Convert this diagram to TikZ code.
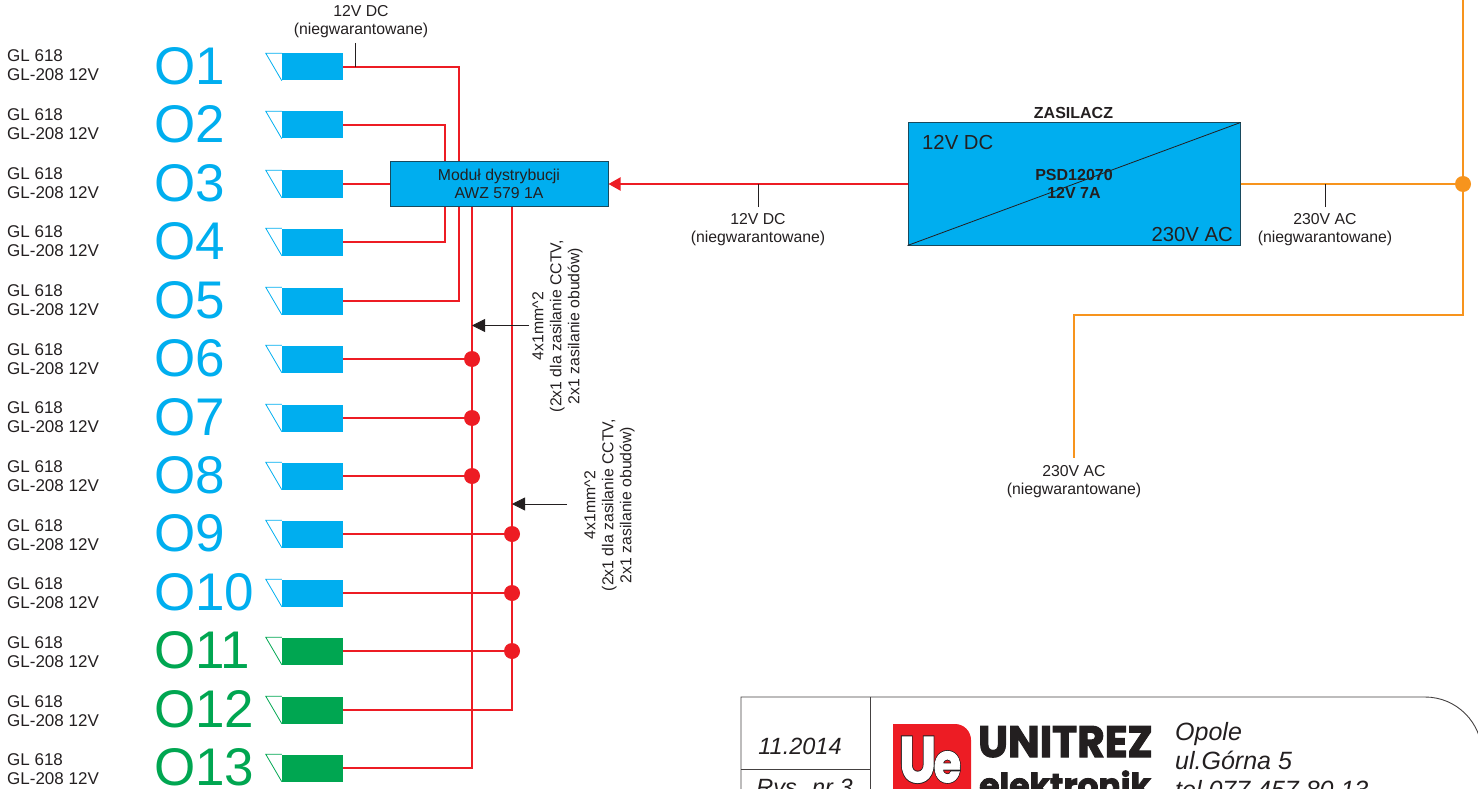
\documentclass[tikz,border=0pt]{standalone}
\usepackage{fontspec}
\setmainfont{Liberation Sans}
\newfontfamily\logofont[FakeBold=2.5]{Poppins Bold}
\newfontfamily\logofontB[FakeBold=5]{Poppins Bold}
\newfontfamily\logofontW[FakeBold=2]{Poppins Bold}
\usetikzlibrary{arrows.meta,calc}
\definecolor{cblue}{HTML}{00AEEF}
\definecolor{cgreen}{HTML}{00A651}
\definecolor{cred}{HTML}{ED1C24}
\definecolor{corange}{HTML}{F7941D}
\definecolor{cink}{HTML}{231F20}
\newcommand{\fsz}[2]{\fontsize{#1}{#2}\selectfont}
\newcommand{\uemark}{\scalebox{.82}[1]{U\kern-3pt{\fsz{54}{54}e}}}
\tikzset{
  redline/.style={draw=cred,line width=2pt},
  orline/.style={draw=corange,line width=2pt},
  tick/.style={draw=cink,line width=0.8pt},
  small/.style={text=cink,align=center,inner sep=0,font=\fsz{15.8}{18}},
  typelab/.style={text=cink,align=left,inner sep=0,anchor=west,font=\fsz{17}{19}},
  biglab/.style={inner sep=0,anchor=base west,font=\fsz{53}{53}},
  bluebox/.style={draw=cink!70!cblue,line width=1pt,fill=cblue,inner sep=0},
  dot/.style={circle,fill=#1,draw=none,minimum size=16pt,inner sep=0},
  frameline/.style={draw=cink!85,line width=0.9pt},
  titletext/.style={text=cink,inner sep=0,anchor=base west,font=\fsz{25}{25}\itshape},
}
\begin{document}
\begin{tikzpicture}[x=1pt,y=-1pt]
\clip (0,0) rectangle (1478,789);
% rows
\foreach \n/\yy/\c in {1/67/cblue,2/125/cblue,3/184/cblue,4/242/cblue,5/301/cblue,6/359/cblue,7/418/cblue,8/476/cblue,9/534/cblue,10/593/cblue,11/651/cgreen,12/710/cgreen,13/768/cgreen}{
  \node[fill=\c,minimum width=61pt,minimum height=27pt,inner sep=0] (cam\n) at (312.5,\yy) {};
  \draw[\c,line width=0.8pt] (cam\n.north west) -- ++(-16,0) -- (cam\n.south west);
  \node[typelab] (type\n) at (7,{65.5+(\n-1)*58.67}) {GL 618\\GL-208 12V};
  \node[biglab,text=\c] (lab\n) at (154,\yy+17.5) {O\n};
}
% module
\node[bluebox,minimum width=218pt,minimum height=44pt,align=center,text=cink,font=\fsz{15.8}{18}] (mod) at (499,184) {Moduł dystrybucji\\AWZ 579 1A};
% power supply
\node[bluebox,minimum width=332pt,minimum height=122pt] (psu) at (1074,184) {};
\draw[tick] (psu.south west) -- (psu.north east);
\node[text=cink,inner sep=0,anchor=base,font=\fsz{16}{16}\bfseries] (psutitle) at (1073.5,119) {ZASILACZ};
\node[text=cink,inner sep=0,anchor=base west,font=\fsz{20.3}{20}] (psu12) at (922,149.5) {12V DC};
\node[text=cink,inner sep=0,anchor=base east,font=\fsz{20.3}{20}] (psu230) at (1233,241) {230V AC};
\node[text=cink,inner sep=0,align=center,font=\fsz{16}{18}\bfseries] (psuname) at (1074,184) {PSD12070\\12V 7A};
% red wiring
\coordinate (x1) at (459,0);
\coordinate (x2) at (445,0);
\coordinate (x3) at (472,0);
\coordinate (x4) at (512,0);
\draw[redline] (cam1.east) -| (x1 |- mod.north);
\draw[redline] (cam2.east) -| (x2 |- mod.north);
\draw[redline] (cam3.east) -- (mod.west |- cam3.east);
\draw[redline] (cam4.east) -| (x2 |- mod.south);
\draw[redline] (cam5.east) -| (x1 |- mod.south);
\draw[redline] (x3 |- mod.south) |- (cam13.east);
\draw[redline] (x4 |- mod.south) |- (cam12.east);
\foreach \n in {6,7,8}{
  \node[dot=cred] (j\n) at (x3 |- cam\n.east) {};
  \draw[redline] (cam\n.east) -- (j\n);
}
\foreach \n in {9,10,11}{
  \node[dot=cred] (j\n) at (x4 |- cam\n.east) {};
  \draw[redline] (cam\n.east) -- (j\n);
}
\draw[redline,-{Triangle[length=12pt,width=13pt]}] (psu.west) -- (mod.east);
% orange wiring
\node[dot=corange] (ojoin) at (1463,184) {};
\coordinate (otop) at (1463,0);
\coordinate (ocorner) at (1463,315);
\coordinate (oend) at (1074,458);
\draw[orline] (psu.east) -- (ojoin);
\draw[orline] (otop) -- (ocorner) -| (oend);
% labels and their ticks
\node[small] (l1) at (361,22) {12V DC\\(niegwarantowane)};
\coordinate (t1) at (355,43);
\draw[tick] (t1) -- (t1 |- cam1.east);
\node[small] (l2) at (758,229.5) {12V DC\\(niegwarantowane)};
\coordinate (t2) at (758,207);
\draw[tick] (t2) -- (t2 |- mod.east);
\node[small] (l3) at (1325,229.5) {230V AC\\(niegwarantowane)};
\coordinate (t3) at (1325,207);
\draw[tick] (t3) -- (t3 |- psu.east);
\node[small] (l4) at (1074,481.5) {230V AC\\(niegwarantowane)};
% cable notes
\node[small,rotate=90] (n1) at (557.5,326) {4x1mm\textasciicircum2\\(2x1 dla zasilanie CCTV,\\2x1 zasilanie obudów)};
\node[small,rotate=90] (n2) at (609.5,505) {4x1mm\textasciicircum2\\(2x1 dla zasilanie CCTV,\\2x1 zasilanie obudów)};
\coordinate (a1) at (529,325.5);
\coordinate (a2) at (567,504);
\draw[tick,-{Triangle[length=13pt,width=13pt]}] (a1) -- (x3 |- a1);
\draw[tick,-{Triangle[length=13pt,width=13pt]}] (a2) -- (x4 |- a2);
% title block
\draw[frameline] (741,830) -- (741,697) -- (1425,697) arc[start angle=-90,end angle=0,radius=57];
\draw[frameline] (870,697) -- (870,800);
\draw[frameline] (741,769.5) -- (870,769.5);
\node[text=cink,inner sep=0,anchor=base,font=\fsz{23.5}{23}\itshape] (date) at (800,754) {11.2014};
\node[text=cink,inner sep=0,anchor=base,font=\fsz{23.5}{23}\itshape] (rys) at (804.5,795) {Rys. nr 3};
\node[titletext] (addr1) at (1175,740) {Opole};
\node[titletext] (addr2) at (1175,769) {ul.Górna 5};
\node[titletext] (addr3) at (1175,798) {tel.077 457 80 13};
% logo
\fill[cred] (893,724) -- (955,724) arc[start angle=-90,end angle=0,radius=16] -- (971,790) arc[start angle=0,end angle=90,radius=14] -- (908,804) arc[start angle=90,end angle=180,radius=15] -- cycle;
\node[inner sep=0,anchor=base west,text=cink,font=\logofontB\fsz{64}{64}] (ue0) at (899,782) {\uemark};
\node[inner sep=0,anchor=base west,text=white,font=\logofontW\fsz{64}{64}] (ue1) at (899,782) {\uemark};
\node[inner sep=0,anchor=base west,text=cink,font=\logofont\fsz{44}{44}] (unitrez) at (978,757) {\scalebox{.96}[1]{UNITREZ}};
\node[inner sep=0,anchor=base west,text=cink,font=\logofont\fsz{33}{33}] (elek) at (979,797) {elektronik};
\end{tikzpicture}
\end{document}
